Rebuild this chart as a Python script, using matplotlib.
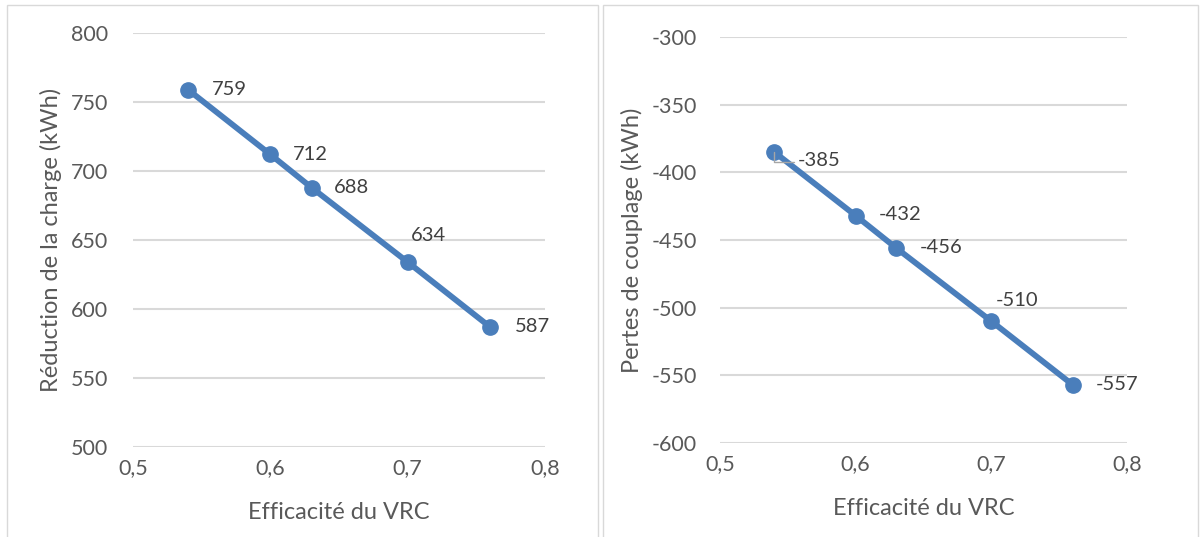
import matplotlib
matplotlib.use('Agg')
import matplotlib.pyplot as plt
from matplotlib.patches import Rectangle

plt.rcParams['font.family'] = ['Lato', 'DejaVu Sans']
plt.rcParams['axes.unicode_minus'] = False

# Data
efficacite = [0.54, 0.60, 0.63, 0.70, 0.76]
reduction = [759, 712, 688, 634, 587]
pertes = [-385, -432, -456, -510, -557]
x_ticks = [0.5, 0.6, 0.7, 0.8]
x_tick_labels = ['0,5', '0,6', '0,7', '0,8']
reduction_ticks = [500, 550, 600, 650, 700, 750, 800]
pertes_ticks = [-600, -550, -500, -450, -400, -350, -300]

LINE_COLOR = '#4A7EBB'
GRID_COLOR = '#D9D9D9'
TICK_COLOR = '#595959'
LABEL_COLOR = '#404040'


def style_axes(ax, yticks, ylabel, ypad):
    # Excel-like look: no spines, horizontal gridlines only.
    for s in ax.spines.values():
        s.set_visible(False)
    ax.set_xlim(0.5, 0.8)
    ax.set_ylim(yticks[0], yticks[-1])
    ax.set_xticks(x_ticks)
    ax.set_xticklabels(x_tick_labels)
    ax.set_yticks(yticks)
    ax.yaxis.grid(True, color=GRID_COLOR, linewidth=1.5)
    ax.xaxis.grid(False)
    ax.set_axisbelow(True)
    ax.tick_params(axis='both', length=0, labelsize=15.5, colors=TICK_COLOR)
    ax.tick_params(axis='y', pad=ypad)
    ax.tick_params(axis='x', pad=8)
    ax.set_xlabel('Efficacité du VRC', fontsize=17, color=TICK_COLOR, labelpad=17)
    ax.set_ylabel(ylabel, fontsize=17, color=TICK_COLOR, labelpad=6)


def plot_series(ax, xs, ys, offsets):
    ax.plot(xs, ys, color=LINE_COLOR, linewidth=4.2, marker='o',
            markersize=11, zorder=3, clip_on=False)
    for x, y, (dx, dy) in zip(xs, ys, offsets):
        ax.annotate(str(y), (x, y), xytext=(dx, dy), textcoords='offset pixels',
                    ha='left', va='center', fontsize=14.5, color=LABEL_COLOR)


fig = plt.figure(figsize=(12.03, 5.37), dpi=100)

# chart area borders
fig.patches.append(Rectangle((7 / 1203, -0.05), 591 / 1203, 1 - 5 / 537 + 0.05,
                             transform=fig.transFigure, fill=False,
                             edgecolor=GRID_COLOR, linewidth=1))
fig.patches.append(Rectangle((603 / 1203, -0.05), 595 / 1203, 1 - 5 / 537 + 0.05,
                             transform=fig.transFigure, fill=False,
                             edgecolor=GRID_COLOR, linewidth=1))

ax1 = fig.add_axes([133 / 1203, 1 - 447 / 537, 412 / 1203, 414 / 537])
style_axes(ax1, reduction_ticks, 'Réduction de la charge (kWh)', 18)
plot_series(ax1, efficacite, reduction,
            [(24, 0), (23, 0), (22, 0), (3, 27), (25, 0)])

ax2 = fig.add_axes([720 / 1203, 1 - 443 / 537, 407 / 1203, 406 / 537])
style_axes(ax2, pertes_ticks, 'Pertes de couplage (kWh)', 16.5)
plot_series(ax2, efficacite, pertes,
            [(23, -8), (23, 1), (23, 1), (4, 21), (23, 0)])

# leader line for the first label of the right chart
ax2.annotate('', xy=(efficacite[0], pertes[0]), xytext=(20, -10),
             textcoords='offset pixels',
             arrowprops=dict(arrowstyle='-', color='#A6A6A6', linewidth=1,
                             connectionstyle='angle,angleA=0,angleB=90,rad=0',
                             shrinkA=0, shrinkB=0))

fig.savefig('out.png', dpi=100)
